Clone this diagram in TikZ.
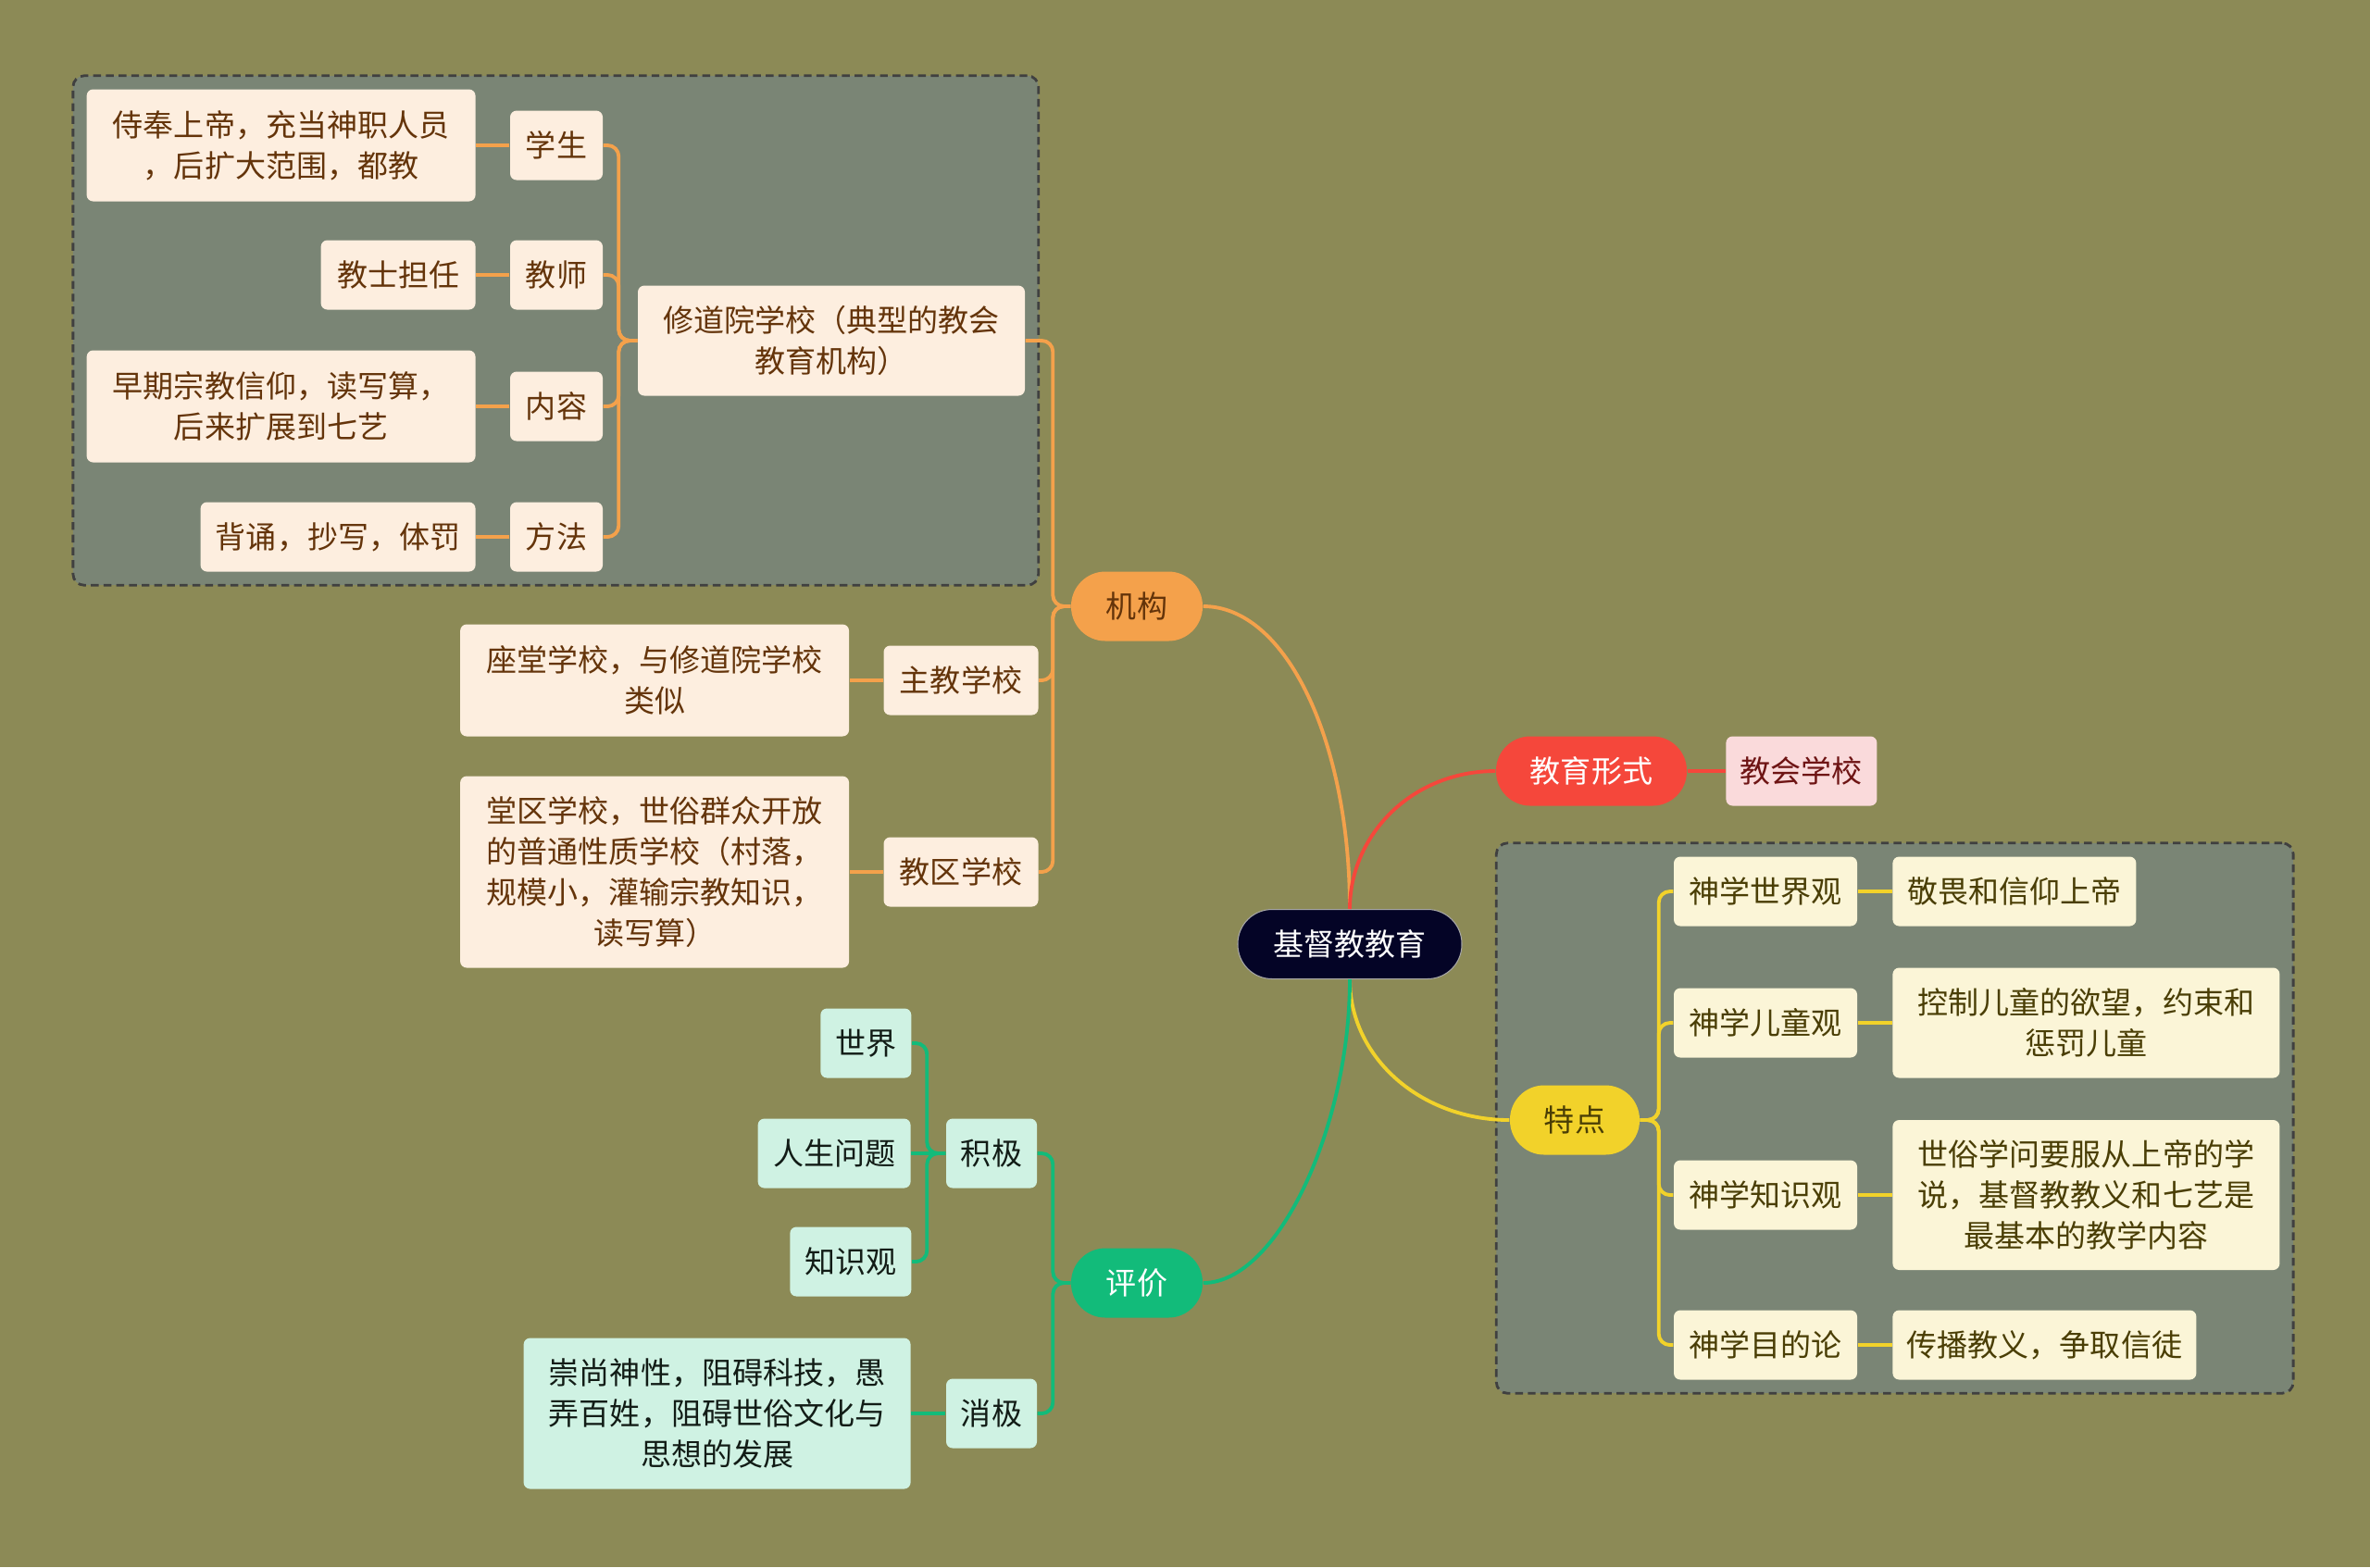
\documentclass[tikz,border=0pt]{standalone}
\usepackage{fontspec}
\setmainfont{Noto Sans CJK SC}
\definecolor{pageolive}{RGB}{140,138,86}
\definecolor{groupgray}{RGB}{122,133,117}
\definecolor{rootnavy}{RGB}{4,4,38}
\definecolor{brorange}{RGB}{244,161,75}
\definecolor{brred}{RGB}{245,71,59}
\definecolor{bryellow}{RGB}{242,210,42}
\definecolor{brgreen}{RGB}{18,187,122}
\definecolor{leaforange}{RGB}{253,238,223}
\definecolor{leafpink}{RGB}{250,218,219}
\definecolor{leafyellow}{RGB}{251,245,215}
\definecolor{leafgreen}{RGB}{207,242,227}
\definecolor{txtbrown}{RGB}{100,52,10}
\definecolor{txtred}{RGB}{110,20,20}
\definecolor{txtolive}{RGB}{74,62,5}
\definecolor{txtdark}{RGB}{18,28,22}
\usetikzlibrary{positioning}
\usetikzlibrary{fit}
\usetikzlibrary{backgrounds}
\tikzset{
  every node/.style={font=\fontsize{9.4}{12.5}\selectfont, align=center, inner sep=0pt},
  topic/.style={minimum height=0.75cm, rounded corners=0.37cm},
  rootnode/.style={topic, fill=rootnavy, draw=gray!70, line width=0.3pt, text=white, minimum width=2.42cm},
  leaf/.style={minimum height=0.75cm, rounded corners=0.07cm},
  oleaf/.style={leaf, fill=leaforange, text=txtbrown},
  pleaf/.style={leaf, fill=leafpink, text=txtred},
  yleaf/.style={leaf, fill=leafyellow, text=txtolive},
  gleaf/.style={leaf, fill=leafgreen, text=txtdark},
  olink/.style={draw=brorange, line width=1.1pt, rounded corners=0.12cm},
  rlink/.style={draw=brred, line width=1.1pt},
  ylink/.style={draw=bryellow, line width=1.1pt, rounded corners=0.12cm},
  glink/.style={draw=brgreen, line width=1.1pt, rounded corners=0.12cm},
  groupbox/.style={draw=black!75, dash pattern=on 2.4pt off 1.5pt, line width=0.8pt, fill=groupgray, rounded corners=0.12cm, inner sep=0.14cm}
}

\begin{document}
\begin{tikzpicture}[y={(0,-1cm)}]
  \useasboundingbox (0,0) rectangle (25.6,16.93);

  % centre and main topics
  \node [rootnode] (root) at (14.58,10.20) {基督教教育};
  \node [topic, fill=brorange, text=txtbrown, minimum width=1.42cm] (jigou) at (12.28,6.55) {机构};
  \node [topic, fill=brred, text=white, minimum width=2.06cm] (xingshi) at (17.19,8.33) {教育形式};
  \node [topic, fill=bryellow, text=txtolive, minimum width=1.40cm] (tedian) at (17.01,12.10) {特点};
  \node [topic, fill=brgreen, text=white, minimum width=1.42cm] (pingjia) at (12.28,13.86) {评价};

  \node [pleaf, minimum width=1.63cm, right=0.41cm of xingshi] (jiaohui) {教会学校};

  % 机构
  \node [oleaf, minimum width=4.18cm, minimum height=1.19cm] (xiudao) at (8.98,3.68) {修道院学校（典型的教会\\教育机构）};
  \node [oleaf, minimum width=1.67cm] (zhujiao) at (10.38,7.35) {主教学校};
  \node [oleaf, minimum width=1.67cm] (jiaoqu) at (10.38,9.42) {教区学校};
  \node [oleaf, minimum width=4.20cm, minimum height=1.21cm, left=0.36cm of zhujiao] (zuotang) {座堂学校，与修道院学校\\类似};
  \node [oleaf, minimum width=4.20cm, minimum height=2.07cm, left=0.36cm of jiaoqu] (tangqu) {堂区学校，世俗群众开放\\的普通性质学校（村落，\\规模小，灌输宗教知识，\\读写算）};

  \node [oleaf, minimum width=1.00cm] (xuesheng) at (6.01,1.57) {学生};
  \node [oleaf, minimum width=1.00cm] (jiaoshi) at (6.01,2.97) {教师};
  \node [oleaf, minimum width=1.00cm] (neirong) at (6.01,4.39) {内容};
  \node [oleaf, minimum width=1.00cm] (fangfa) at (6.01,5.80) {方法};
  \node [oleaf, minimum width=4.20cm, minimum height=1.21cm, left=0.36cm of xuesheng] (shifeng) {侍奉上帝，充当神职人员\\，后扩大范围，都教};
  \node [oleaf, minimum width=1.67cm, left=0.36cm of jiaoshi] (jiaoshidan) {教士担任};
  \node [oleaf, minimum width=4.20cm, minimum height=1.21cm, left=0.36cm of neirong] (zaoqi) {早期宗教信仰，读写算，\\后来扩展到七艺};
  \node [oleaf, minimum width=2.97cm, left=0.36cm of fangfa] (beisong) {背诵，抄写，体罚};

  % 特点
  \node [yleaf, minimum width=1.98cm] (sxsj) at (19.07,9.63) {神学世界观};
  \node [yleaf, minimum width=1.98cm] (sxet) at (19.07,11.05) {神学儿童观};
  \node [yleaf, minimum width=1.98cm] (sxzs) at (19.07,12.91) {神学知识观};
  \node [yleaf, minimum width=1.98cm] (sxmd) at (19.07,14.53) {神学目的论};
  \node [yleaf, minimum width=2.63cm, right=0.37cm of sxsj] (jingwei) {敬畏和信仰上帝};
  \node [yleaf, minimum width=4.18cm, minimum height=1.19cm, right=0.37cm of sxet] (kongzhi) {控制儿童的欲望，约束和\\惩罚儿童};
  \node [yleaf, minimum width=4.18cm, minimum height=1.62cm, right=0.37cm of sxzs] (shisu) {世俗学问要服从上帝的学\\说，基督教教义和七艺是\\最基本的教学内容};
  \node [yleaf, minimum width=3.28cm, right=0.37cm of sxmd] (chuanbo) {传播教义，争取信徒};

  % 评价
  \node [gleaf, minimum width=0.98cm] (jiji) at (10.71,12.46) {积极};
  \node [gleaf, minimum width=0.98cm] (xiaoji) at (10.71,15.27) {消极};
  \node [gleaf, minimum width=0.98cm, anchor=east] (shijie) at (9.85,11.27) {世界};
  \node [gleaf, minimum width=1.65cm, left=0.37cm of jiji] (rensheng) {人生问题};
  \node [gleaf, minimum width=1.31cm, anchor=east] (zhishi) at (9.85,13.63) {知识观};
  \node [gleaf, minimum width=4.18cm, minimum height=1.63cm, left=0.37cm of xiaoji] (chongshang) {崇尚神性，阻碍科技，愚\\弄百姓，阻碍世俗文化与\\思想的发展};

  % connectors from the centre
  \draw [olink] (root.north) .. controls +(0,-1.8) and +(0.9,0) .. (jigou.east);
  \draw [rlink] (root.north) .. controls +(0,-0.8) and +(-0.9,0) .. (xingshi.west);
  \draw [ylink] (root.south) .. controls +(0,0.85) and +(-0.95,0) .. (tedian.west);
  \draw [glink] (root.south) .. controls +(0,1.6) and +(0.8,0) .. (pingjia.east);

  \draw [rlink] (xingshi) -- (jiaohui);

  \foreach \kid in {xiudao, zhujiao, jiaoqu}
    \draw [olink] (jigou.west) -- ++(-0.19,0) |- (\kid.east);
  \foreach \kid in {xuesheng, jiaoshi, neirong, fangfa}
    \draw [olink] (xiudao.west) -- ++(-0.2,0) |- (\kid.east);
  \draw [olink] (xuesheng) -- (shifeng);
  \draw [olink] (jiaoshi) -- (jiaoshidan);
  \draw [olink] (neirong) -- (zaoqi);
  \draw [olink] (fangfa) -- (beisong);
  \draw [olink] (zhujiao) -- (zuotang);
  \draw [olink] (jiaoqu) -- (tangqu);

  \foreach \kid in {sxsj, sxet, sxzs, sxmd}
    \draw [ylink] (tedian.east) -- ++(0.2,0) |- (\kid.west);
  \draw [ylink] (sxsj) -- (jingwei);
  \draw [ylink] (sxet) -- (kongzhi);
  \draw [ylink] (sxzs) -- (shisu);
  \draw [ylink] (sxmd) -- (chuanbo);

  \foreach \kid in {jiji, xiaoji}
    \draw [glink] (pingjia.west) -- ++(-0.19,0) |- (\kid.east);
  \foreach \kid in {shijie, zhishi}
    \draw [glink] (jiji.west) -- ++(-0.2,0) |- (\kid.east);
  \draw [glink] (jiji) -- (rensheng);
  \draw [glink] (xiaoji) -- (chongshang);

  % page and groups behind everything
  \begin{scope}[on background layer]
    \fill [pageolive] (0,0) rectangle (25.6,16.93);
    \node [groupbox, fit=(shifeng)(xiudao)(fangfa)] (leftgroup) {};
    \node [groupbox, fit=(tedian)(sxsj)(kongzhi)(sxmd)] (rightgroup) {};
  \end{scope}
\end{tikzpicture}
\end{document}
